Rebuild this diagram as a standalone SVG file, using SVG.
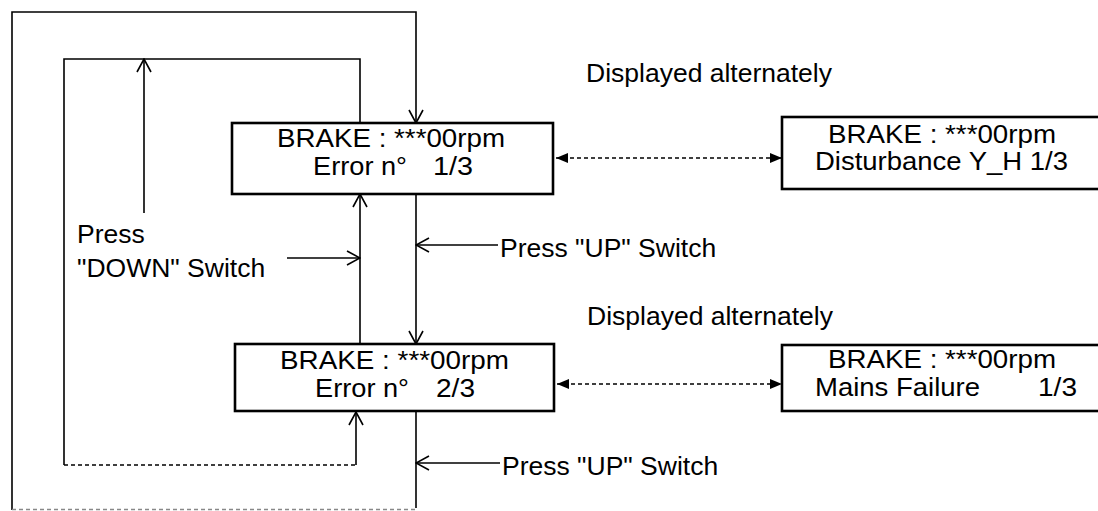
<svg xmlns="http://www.w3.org/2000/svg" width="1098" height="511" viewBox="0 0 1098 511">
<style>
.box{fill:#fff;stroke:#000;stroke-width:2.6}
.ln{fill:none;stroke:#000;stroke-width:1.6}
.dash{fill:none;stroke:#000;stroke-width:1.6;stroke-dasharray:4 3}
.gdash{fill:none;stroke:#888;stroke-width:1.6;stroke-dasharray:4 3}
.nt{font-family:"Liberation Sans",Arial,sans-serif;font-size:26px;fill:#000;white-space:pre}
.lb{font-family:"Liberation Sans",Arial,sans-serif;font-size:26.5px;fill:#000;white-space:pre}
</style>
<defs>
<marker id="open" viewBox="0 0 16 16" refX="15" refY="8" markerWidth="16" markerHeight="16" markerUnits="userSpaceOnUse" orient="auto">
<path d="M2,1 L15,8 L2,15" fill="none" stroke="#000" stroke-width="1.6"/>
</marker>
<marker id="solid" viewBox="0 0 12 10" refX="12" refY="5" markerWidth="12" markerHeight="10" markerUnits="userSpaceOnUse" orient="auto-start-reverse">
<path d="M0,0 L12,5 L0,10 Z" fill="#000"/>
</marker>
</defs>
<rect width="1098" height="511" fill="#fff"/>
<g id="connectors">
<polyline class="ln" points="12,510 12,12 416,12 416,123" marker-end="url(#open)"/>
<line class="gdash" x1="12" y1="509.5" x2="416" y2="509.5"/>
<line class="ln" x1="416" y1="411" x2="416" y2="508"/>
<polyline class="ln" points="360,123 360,59 64,59 64,465"/>
<polyline class="dash" points="64,465 356,465"/>
<line class="ln" x1="356" y1="465" x2="356" y2="412" marker-end="url(#open)"/>
<line class="ln" x1="144" y1="213" x2="144" y2="59" marker-end="url(#open)"/>
<line class="ln" x1="360" y1="344" x2="360" y2="194" marker-end="url(#open)"/>
<line class="ln" x1="287" y1="258" x2="360" y2="258" marker-end="url(#open)"/>
<line class="ln" x1="416" y1="194" x2="416" y2="344" marker-end="url(#open)"/>
<line class="ln" x1="498" y1="245" x2="416" y2="245" marker-end="url(#open)"/>
<line class="ln" x1="500" y1="463" x2="416" y2="463" marker-end="url(#open)"/>
<line class="dash" x1="556" y1="158" x2="782" y2="158" marker-start="url(#solid)" marker-end="url(#solid)"/>
<line class="dash" x1="557" y1="384" x2="782" y2="384" marker-start="url(#solid)" marker-end="url(#solid)"/>
</g>
<g id="node-error1">
<rect class="box" x="232" y="123" width="321" height="71"/>
<text class="nt" x="277" y="147" textLength="228" lengthAdjust="spacingAndGlyphs">BRAKE : ***00rpm</text>
<text class="nt" x="313" y="175" textLength="94" lengthAdjust="spacingAndGlyphs">Error n°</text>
<text class="nt" x="433" y="175" textLength="40" lengthAdjust="spacingAndGlyphs">1/3</text>
</g>
<g id="node-error2">
<rect class="box" x="235" y="344" width="319" height="67"/>
<text class="nt" x="280" y="369" textLength="229" lengthAdjust="spacingAndGlyphs">BRAKE : ***00rpm</text>
<text class="nt" x="315" y="397" textLength="94" lengthAdjust="spacingAndGlyphs">Error n°</text>
<text class="nt" x="436" y="397" textLength="39" lengthAdjust="spacingAndGlyphs">2/3</text>
</g>
<g id="node-disturbance">
<rect class="box" x="782" y="117" width="322" height="72"/>
<text class="nt" x="828" y="142.5" textLength="228" lengthAdjust="spacingAndGlyphs">BRAKE : ***00rpm</text>
<text class="nt" x="815" y="170" textLength="253" lengthAdjust="spacingAndGlyphs">Disturbance Y_H 1/3</text>
</g>
<g id="node-mains">
<rect class="box" x="782" y="345" width="322" height="66"/>
<text class="nt" x="828" y="368" textLength="228" lengthAdjust="spacingAndGlyphs">BRAKE : ***00rpm</text>
<text class="nt" x="815" y="396" textLength="165" lengthAdjust="spacingAndGlyphs">Mains Failure</text>
<text class="nt" x="1038" y="396" textLength="39" lengthAdjust="spacingAndGlyphs">1/3</text>
</g>
<g id="labels">
<text class="lb" x="586" y="82">Displayed alternately</text>
<text class="lb" x="587" y="325">Displayed alternately</text>
<text class="lb" x="77" y="243">Press</text>
<text class="lb" x="77" y="277">"DOWN" Switch</text>
<text class="lb" x="500" y="257">Press "UP" Switch</text>
<text class="lb" x="502" y="475">Press "UP" Switch</text>
</g>
</svg>
